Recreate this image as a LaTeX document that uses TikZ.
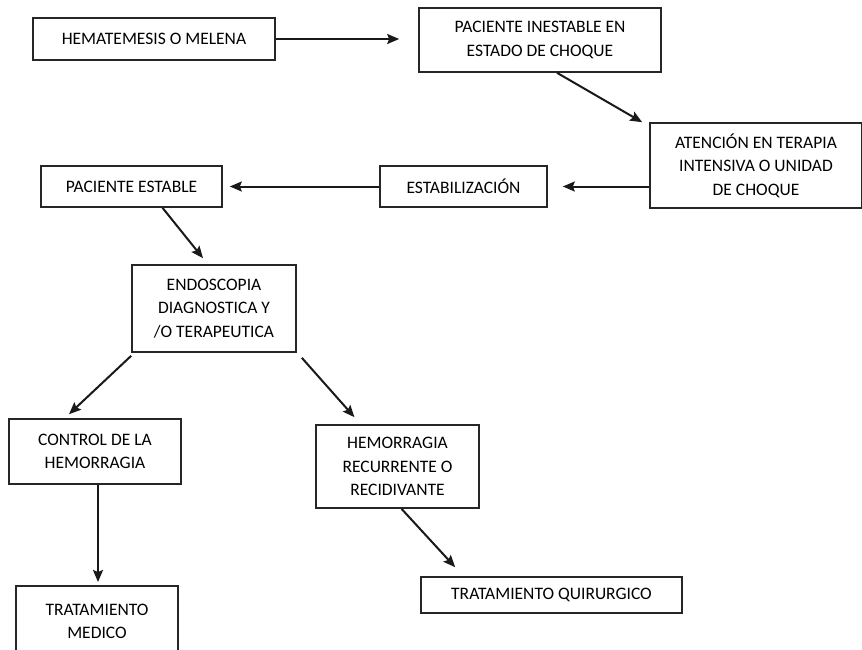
\documentclass[tikz,border=0pt]{standalone}
\usepackage{fontspec}
\setmainfont{Carlito}
\usepackage{tikz}
\usetikzlibrary{arrows.meta, shadows}

\begin{document}
\begin{tikzpicture}[x=1pt, y=-1pt,
    stage/.style={draw=black!85, line width=1.6pt, fill=white, align=center,
                  inner sep=2pt, font=\fontsize{17.5}{23.5}\selectfont,
                  drop shadow={shadow xshift=0.8pt, shadow yshift=-1.4pt, fill=black!50, opacity=0.6}},
    flow/.style={draw=black!90, line width=2pt, -{Stealth[length=12pt, width=10pt, inset=2pt]}}
]
    \useasboundingbox (0,0) rectangle (862,650);
    \clip (0,0) rectangle (862,650);

    \node[stage, minimum width=242, minimum height=42] (hemat) at (154,39) {HEMATEMESIS O MELENA};
    \node[stage, minimum width=242, minimum height=64] (inestable) at (540,40) {PACIENTE INESTABLE EN\\ESTADO DE CHOQUE};
    \node[stage, minimum width=212, minimum height=85] (terapia) at (756,165.5) {ATENCIÓN EN TERAPIA\\INTENSIVA O UNIDAD\\DE CHOQUE};
    \node[stage, minimum width=167, minimum height=41] (estabil) at (463.5,186.5) {ESTABILIZACIÓN};
    \node[stage, minimum width=181, minimum height=41] (estable) at (131.5,186.5) {PACIENTE ESTABLE};
    \node[stage, minimum width=164, minimum height=87] (endo) at (214,308.5) {ENDOSCOPIA\\DIAGNOSTICA Y\\/O TERAPEUTICA};
    \node[stage, minimum width=172, minimum height=65] (control) at (95,451.5) {CONTROL DE LA\\HEMORRAGIA};
    \node[stage, minimum width=163, minimum height=83] (recurrente) at (397.5,466.5) {HEMORRAGIA\\RECURRENTE O\\RECIDIVANTE};
    \node[stage, minimum width=162, minimum height=95, anchor=north] (medico) at (97,585) {TRATAMIENTO\\MEDICO\\\mbox{}};
    \node[stage, minimum width=261, minimum height=36] (quirurgico) at (551.5,595) {TRATAMIENTO QUIRURGICO};

    \draw[flow, shorten >=19pt] (hemat.east) -- (hemat.east -| inestable.west);
    \draw[flow] ([xshift=17pt]inestable.south) -- ([xshift=-7pt]terapia.north west);
    \draw[flow, shorten >=15pt] (terapia.west |- estabil.east) -- (estabil.east);
    \draw[flow, shorten >=7pt] (estabil.west) -- (estable.east);
    \draw[flow] ([xshift=31pt]estable.south) -- ([xshift=-11pt, yshift=6pt]endo.north);
    \draw[flow] ([yshift=-3pt]endo.south west) -- ([xshift=-26pt, yshift=4pt]control.north);
    \draw[flow] ([xshift=5pt, yshift=-5pt]endo.south east) -- ([xshift=-43pt, yshift=7pt]recurrente.north);
    \draw[flow, shorten >=3pt] ([xshift=3pt]control.south) -- ([xshift=3pt]control.south |- medico.north);
    \draw[flow] ([xshift=4pt]recurrente.south) -- ([xshift=35pt, yshift=9pt]quirurgico.north west);
\end{tikzpicture}
\end{document}
